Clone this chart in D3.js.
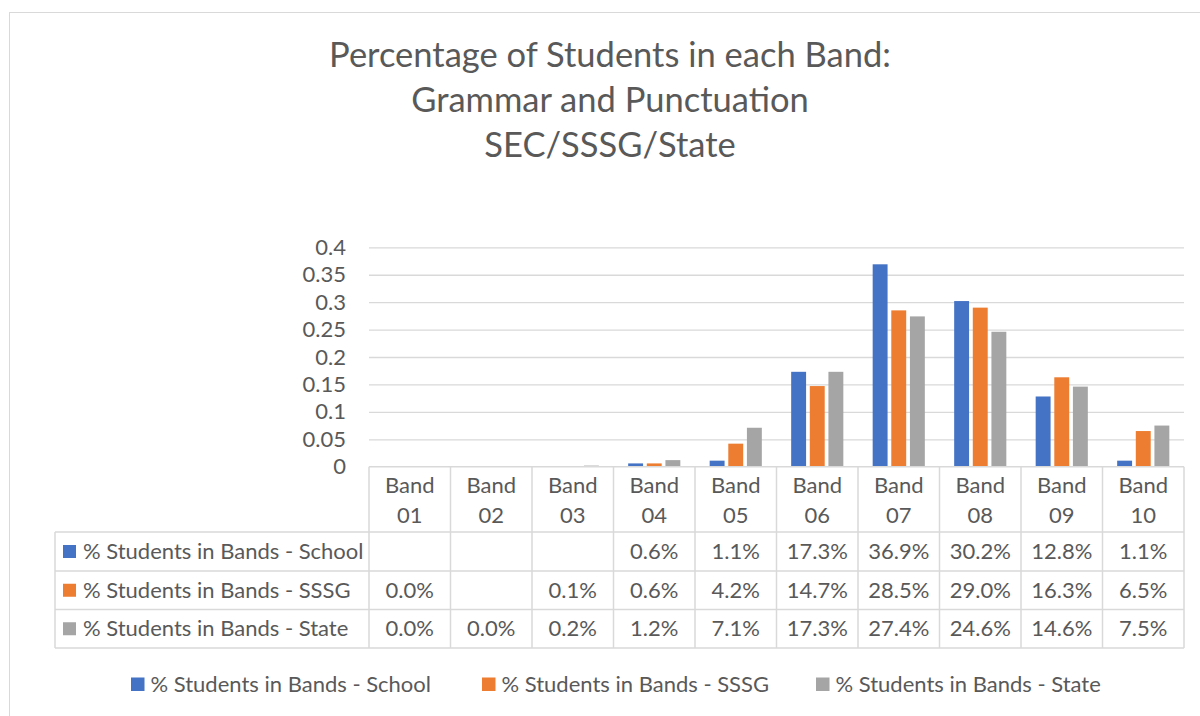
<!DOCTYPE html>
<html>
<head>
<meta charset="utf-8">
<script src="https://cdn.jsdelivr.net/npm/d3@7"></script>
<style>
  html, body { margin: 0; padding: 0; background: #fff; }
  svg { display: block; }
  text { font-family: Lato, "Open Sans", sans-serif; fill: #595959; }
</style>
</head>
<body>
<svg id="chart" width="1200" height="716"></svg>
<script>
// Bands along the x axis
const bands = ["Band 01", "Band 02", "Band 03", "Band 04", "Band 05",
               "Band 06", "Band 07", "Band 08", "Band 09", "Band 10"];

// Series names and their share of students per band (null = no value)
const seriesNames = ["% Students in Bands - School",
                     "% Students in Bands - SSSG",
                     "% Students in Bands - State"];
const schoolValues = [null, null, null, 0.006, 0.011, 0.173, 0.369, 0.302, 0.128, 0.011];
const sssgValues   = [0.000, null, 0.001, 0.006, 0.042, 0.147, 0.285, 0.290, 0.163, 0.065];
const stateValues  = [0.000, 0.000, 0.002, 0.012, 0.071, 0.173, 0.274, 0.246, 0.146, 0.075];
const seriesColors = ["#4472C4", "#ED7D31", "#A5A5A5"];

// Value axis ticks
const yTicks = [0, 0.05, 0.1, 0.15, 0.2, 0.25, 0.3, 0.35, 0.4];

const titleLines = ["Percentage of Students in each Band:",
                    "Grammar and Punctuation",
                    "SEC/SSSG/State"];

const series = [schoolValues, sssgValues, stateValues].map((vals, i) => ({
  name: seriesNames[i], color: seriesColors[i], values: vals
}));

const svg = d3.select("#chart");
const gridColor = "#d9d9d9";
const bodySize = "22px";

// Outer chart frame
svg.append("rect")
  .attr("x", 9.5).attr("y", 12.5)
  .attr("width", 1300).attr("height", 800)
  .attr("fill", "none").attr("stroke", gridColor).attr("stroke-width", 1);

// Title
svg.append("g").selectAll("text")
  .data(titleLines)
  .join("text")
  .attr("x", 610)
  .attr("y", (d, i) => 67 + i * 45)
  .attr("text-anchor", "middle")
  .style("font-size", "34.5px")
  .text(d => d);

// Plot geometry
const plotLeft = 369, plotRight = 1184, plotTop = 247.3, plotBottom = 466.7;

const x = d3.scaleBand().domain(bands).range([plotLeft, plotRight]).paddingInner(0).paddingOuter(0);
const y = d3.scaleLinear().domain([0, 0.4]).range([plotBottom, plotTop]);

const inner = d3.scaleBand()
  .domain(d3.range(series.length))
  .range([x.bandwidth() * 0.18, x.bandwidth() * 0.82])
  .paddingInner(0.2);

// Gridlines and value-axis labels
const yAxis = d3.axisLeft(y)
  .tickValues(yTicks)
  .tickSize(-(plotRight - plotLeft))
  .tickPadding(23)
  .tickFormat(d => String(+d.toFixed(2)));

const yg = svg.append("g")
  .attr("transform", `translate(${plotLeft},0)`)
  .call(yAxis);
yg.select(".domain").remove();
yg.selectAll(".tick line")
  .attr("stroke", gridColor)
  .attr("stroke-width", 1.3)
  .filter(d => d === 0).remove();
yg.selectAll(".tick text")
  .attr("fill", "#595959")
  .style("font-size", bodySize)
  .style("font-family", "Lato, 'Open Sans', sans-serif");

// Bars
const barG = svg.append("g");
series.forEach((s, si) => {
  barG.append("g").selectAll("rect")
    .data(bands.map((b, bi) => ({ band: b, v: s.values[bi] })).filter(d => d.v !== null))
    .join("rect")
    .attr("x", d => x(d.band) + inner(si))
    .attr("width", inner.bandwidth())
    .attr("y", d => y(d.v))
    .attr("height", d => y(0) - y(d.v))
    .attr("fill", s.color);
});

// Data table beneath the plot
const tableLeft = 55;
const headerTop = plotBottom;
const rowEdges = [532, 571, 609.5, 648];

const tbl = svg.append("g");

// Horizontal rules
tbl.append("line")
  .attr("x1", plotLeft).attr("x2", plotRight)
  .attr("y1", headerTop).attr("y2", headerTop)
  .attr("stroke", gridColor).attr("stroke-width", 1.5);
tbl.selectAll("line.row")
  .data(rowEdges)
  .join("line")
  .attr("class", "row")
  .attr("x1", tableLeft).attr("x2", plotRight)
  .attr("y1", d => d).attr("y2", d => d)
  .attr("stroke", gridColor).attr("stroke-width", 1.5);

// Vertical rules
const colEdges = bands.map(b => x(b)).concat([plotRight]);
tbl.selectAll("line.col")
  .data(colEdges)
  .join("line")
  .attr("class", "col")
  .attr("x1", d => d).attr("x2", d => d)
  .attr("y1", headerTop).attr("y2", rowEdges[rowEdges.length - 1])
  .attr("stroke", gridColor).attr("stroke-width", 1.5);
tbl.append("line")
  .attr("x1", tableLeft).attr("x2", tableLeft)
  .attr("y1", rowEdges[0]).attr("y2", rowEdges[rowEdges.length - 1])
  .attr("stroke", gridColor).attr("stroke-width", 1.5);

// Header cells: two-line band names
const head = tbl.selectAll("text.head")
  .data(bands)
  .join("text")
  .attr("class", "head")
  .attr("text-anchor", "middle")
  .style("font-size", bodySize);
head.append("tspan")
  .attr("x", d => x(d) + x.bandwidth() / 2)
  .attr("y", 492.5)
  .text(d => d.split(" ")[0]);
head.append("tspan")
  .attr("x", d => x(d) + x.bandwidth() / 2)
  .attr("y", 522.5)
  .text(d => d.split(" ")[1]);

// Row headers with legend keys, and value cells
const pct = d3.format(".1%");
series.forEach((s, si) => {
  const y0 = rowEdges[si], y1 = rowEdges[si + 1], cy = (y0 + y1) / 2;
  tbl.append("rect")
    .attr("x", 63).attr("y", cy - 6.5)
    .attr("width", 13).attr("height", 13)
    .attr("fill", s.color);
  tbl.append("text")
    .attr("x", 83).attr("y", cy + 7.5)
    .style("font-size", bodySize)
    .text(s.name);
  tbl.append("g").selectAll("text")
    .data(bands.map((b, bi) => ({ band: b, v: s.values[bi] })).filter(d => d.v !== null))
    .join("text")
    .attr("x", d => x(d.band) + x.bandwidth() / 2)
    .attr("y", cy + 7.5)
    .attr("text-anchor", "middle")
    .style("font-size", bodySize)
    .text(d => pct(d.v));
});

// Bottom legend
const legendX = [131, 482, 816];
const legend = svg.append("g");
series.forEach((s, si) => {
  legend.append("rect")
    .attr("x", legendX[si]).attr("y", 677.5)
    .attr("width", 13.5).attr("height", 13.5)
    .attr("fill", s.color);
  legend.append("text")
    .attr("x", legendX[si] + 19.5).attr("y", 691.5)
    .style("font-size", bodySize)
    .text(s.name);
});
</script>
</body>
</html>
